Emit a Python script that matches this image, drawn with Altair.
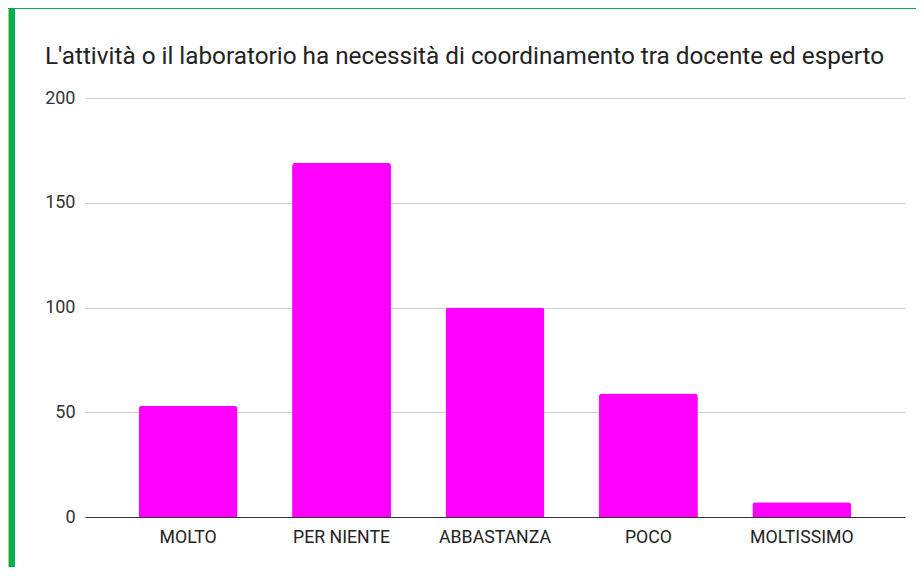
import altair as alt
import pandas as pd

categories = ["MOLTO", "PER NIENTE", "ABBASTANZA", "POCO", "MOLTISSIMO"]
values = [53, 169, 100, 59, 7]
y_ticks = [0, 50, 100, 150, 200]
title_text = "L'attività o il laboratorio ha necessità di coordinamento tra docente ed esperto"

df = pd.DataFrame({"cat": categories, "val": values})

W, H = 820, 419
PL, PT, PR, PB = 77, 90, 11, 50

bars = alt.Chart(df).mark_bar(
    color="#ff00ff", cornerRadiusTopLeft=3, cornerRadiusTopRight=3
).encode(
    x=alt.X("cat:N", sort=categories,
            scale=alt.Scale(paddingInner=0.355, paddingOuter=0.35),
            axis=alt.Axis(title=None, labelAngle=0, ticks=False, domain=True,
                          domainColor="#333333", domainWidth=1.2,
                          labelPadding=11, labelFont="Roboto", labelFontSize=17.7,
                          labelColor="#222222", grid=False)),
    y=alt.Y("val:Q", scale=alt.Scale(domain=[0, 200], nice=False),
            axis=alt.Axis(title=None, values=y_ticks, ticks=False, domain=False,
                          gridColor="#d0d0d0", gridWidth=1, labelPadding=10,
                          labelFont="Roboto", labelFontSize=18, labelColor="#333333")),
)

title_mark = alt.Chart().mark_text(
    text=title_text, font="Roboto", fontSize=24.3, color="#222222",
    align="left", baseline="alphabetic"
).encode(x=alt.value(-40), y=alt.value(-34))

border_green = alt.Chart().mark_rect(color="#00b050").encode(
    x=alt.value(-PL + 1), x2=alt.value(-PL + 7),
    y=alt.value(-PT), y2=alt.value(H + PB + 5),
)
border_light = alt.Chart().mark_rect(color="#a8d878").encode(
    x=alt.value(-PL), x2=alt.value(-PL + 1),
    y=alt.value(-PT), y2=alt.value(H + PB + 5),
)
border_top = alt.Chart().mark_rect(color="#00b050").encode(
    x=alt.value(-PL), x2=alt.value(W + PR + 5),
    y=alt.value(-PT), y2=alt.value(-PT + 1),
)

chart = alt.layer(border_green, border_light, border_top, title_mark, bars).properties(
    width=W, height=H,
    background="white",
    autosize=alt.AutoSizeParams(type="none"),
    padding={"left": PL, "top": PT, "right": PR, "bottom": PB},
).configure_view(strokeWidth=0, stroke=None)

chart.save("out.html", embed_options={"renderer": "svg", "actions": False})
